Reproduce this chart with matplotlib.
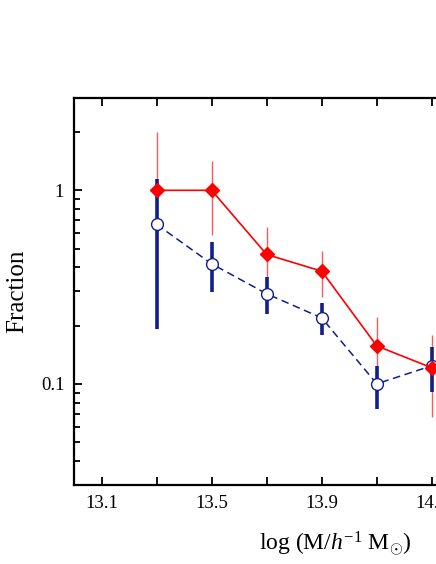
import numpy as np
import matplotlib.pyplot as plt
from matplotlib.ticker import FixedLocator, FixedFormatter, LogLocator, NullFormatter

plt.rcParams['font.family'] = ['Liberation Serif', 'DejaVu Serif']
plt.rcParams['mathtext.fontset'] = 'custom'
plt.rcParams['mathtext.rm'] = 'Liberation Serif'
plt.rcParams['mathtext.it'] = 'Liberation Serif:italic'

# Data
log_mass = np.array([13.3, 13.5, 13.7, 13.9, 14.1, 14.3])

red_frac = np.array([1.0, 1.0, 0.466, 0.382, 0.157, 0.121])
red_hi = np.array([2.0, 1.41, 0.645, 0.483, 0.221, 0.178])
red_lo = np.array([0.35, 0.585, 0.33, 0.282, 0.105, 0.067])

blue_frac = np.array([0.667, 0.417, 0.292, 0.219, 0.100, 0.124])
blue_hi = np.array([1.14, 0.54, 0.355, 0.261, 0.124, 0.155])
blue_lo = np.array([0.193, 0.30, 0.23, 0.179, 0.074, 0.091])

x_major = [13.1, 13.5, 13.9, 14.3, 14.7]
x_labels = ['13.1', '13.5', '13.9', '14.3', '14.7']

red = '#ff0000'
navy = '#0f1f8c'

fig = plt.figure(figsize=(4.36, 5.64), dpi=100)
# the axes runs past the right edge, like in the cropped original
ax = fig.add_axes([74 / 436, 1 - 485 / 564, 523 / 436, 387 / 564])

# error bars first, red beneath blue
ax.errorbar(log_mass, red_frac, yerr=[red_frac - red_lo, red_hi - red_frac],
            fmt='none', ecolor='#ff5a5a', elinewidth=1.0, capsize=0, zorder=2)
ax.errorbar(log_mass, blue_frac, yerr=[blue_frac - blue_lo, blue_hi - blue_frac],
            fmt='none', ecolor=navy, elinewidth=2.6, capsize=0, zorder=3)

ax.plot(log_mass, blue_frac, ls=(0, (5, 3)), color=navy, lw=1.1,
        marker='o', ms=8.5, mfc='white', mec=navy, mew=1.0, zorder=4)
ax.plot(log_mass, red_frac, ls='-', color=red, lw=1.2,
        marker='D', ms=7.5, mfc=red, mec=red, zorder=5)

ax.set_yscale('log')
ax.set_xlim(13.0, 14.9)
ax.set_ylim(0.03, 3.0)

ax.xaxis.set_major_locator(FixedLocator(x_major))
ax.xaxis.set_major_formatter(FixedFormatter(x_labels))
ax.xaxis.set_minor_locator(FixedLocator([13.3, 13.7, 14.1, 14.5]))

ax.yaxis.set_major_locator(FixedLocator([0.1, 1.0]))
ax.yaxis.set_major_formatter(FixedFormatter(['0.1', '1']))
ax.yaxis.set_minor_locator(LogLocator(base=10, subs=np.arange(2, 10)))
ax.yaxis.set_minor_formatter(NullFormatter())

ax.tick_params(which='both', direction='in', top=True, right=True, width=1.3, labelsize=13.5)
ax.tick_params(which='major', length=6, pad=7)
ax.tick_params(axis='x', which='minor', length=6)
ax.tick_params(axis='y', which='minor', length=4)

for s in ax.spines.values():
    s.set_linewidth(1.6)

ax.set_ylabel('Fraction', fontsize=18, labelpad=9)
ax.set_xlabel(r'log (M/$h^{-1}$ M$_{\odot}$)', fontsize=17, labelpad=13)

fig.savefig('out.png', dpi=100)
